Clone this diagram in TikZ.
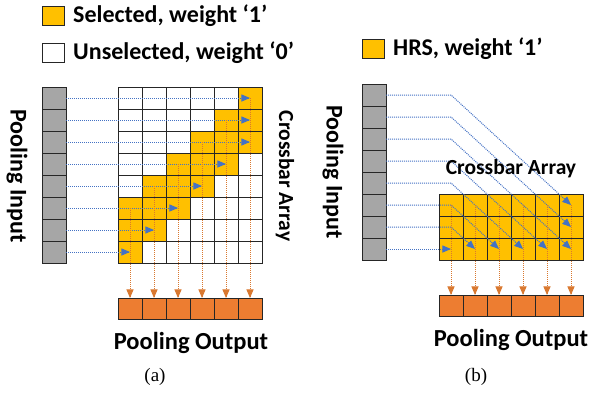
\documentclass[tikz,border=0pt]{standalone}
\usepackage{fontspec}
\setmainfont{Liberation Serif}
\newfontfamily\calfont{Carlito}
\usetikzlibrary{arrows,calc}
\definecolor{SelClr}{HTML}{FFC000}
\definecolor{OutClr}{HTML}{ED7D31}
\definecolor{InClr}{HTML}{A6A6A6}
\definecolor{BlueClr}{HTML}{4472C4}
\definecolor{DotClr}{HTML}{D9782F}

\begin{document}
\begin{tikzpicture}[x=1pt,y=-1pt,
  cell/.style={draw=black!85,line width=0.8pt,minimum width=24pt,minimum height=22pt,
    inner sep=0pt,outer sep=0pt,anchor=north west},
  incell/.style={cell,fill=InClr},
  selcell/.style={cell,fill=SelClr},
  outcell/.style={cell,fill=OutClr,minimum height=21pt},
  keybox/.style={cell,minimum width=22pt,minimum height=19pt,anchor=center},
  lbl/.style={inner sep=0pt,font=\calfont\bfseries\fontsize{24}{24}\selectfont},
  lblbig/.style={inner sep=0pt,font=\calfont\bfseries\fontsize{24.5}{25}\selectfont},
  lblsmall/.style={inner sep=0pt,font=\calfont\bfseries\fontsize{21.5}{22}\selectfont},
  captxt/.style={inner sep=0pt,font=\fontsize{19}{19}\selectfont},
  bluedot/.style={BlueClr,line width=1pt,densely dotted,-triangle 45},
  orgdot/.style={DotClr,line width=1pt,densely dotted,-triangle 45}]
\useasboundingbox (0,0) rectangle (590,392);

\node[keybox,fill=SelClr] (keysel) at (53,16) {};
\node[lbl,anchor=west] (txtsel) at (73,16) {Selected, weight ‘1’};
\node[keybox,fill=white] (keyuns) at (53,53) {};
\node[lbl,anchor=west] (txtuns) at (73,53) {Unselected, weight ‘0’};

\foreach \i in {1,...,8} {
  \node[incell] (ina-\i) at (42,{87+22*(\i-1)}) {};
  \foreach \c in {1,...,6} {
    \pgfmathtruncatemacro\sel{and(\c>=7-\i,\c<=9-\i)}
    \ifnum\sel=1 \def\fc{SelClr}\else\def\fc{white}\fi
    \node[cell,fill=\fc] (xa-\i-\c) at ({118+24*(\c-1)},{87+22*(\i-1)}) {};
  }
}
\foreach \i in {1,...,8} {
  \pgfmathtruncatemacro\e{min(9-\i,6)}
  \draw[bluedot] (ina-\i.east) -- (xa-\i-\e.center);
}
\foreach \c in {1,...,6} {
  \pgfmathtruncatemacro\t{7-\c}
  \node[outcell] (outa-\c) at ({118+24*(\c-1)},298) {};
  \draw[orgdot] (xa-\t-\c.center) -- (outa-\c.north);
}

\node[lbl,rotate=-90] (pina) at (17,176) {Pooling Input};
\node[lblsmall,rotate=-90] (xbara) at (285,176) {Crossbar Array};
\node[lblbig] (pouta) at (191,343) {Pooling Output};
\node[captxt] (capa) at (155,377) {(a)};

\node[keybox,fill=SelClr] (keyhrs) at (373,49) {};
\node[lbl,anchor=west] (txthrs) at (393,49) {HRS, weight ‘1’};

\foreach \i in {1,...,8}
  \node[incell] (inb-\i) at (362,{84+22*(\i-1)}) {};
\foreach \r in {1,2,3}
  \foreach \c in {1,...,6}
    \node[selcell] (xb-\r-\c) at ({439+24*(\c-1)},{194+22*(\r-1)}) {};
\foreach \i in {1,...,8} {
  \pgfmathtruncatemacro\r{min(3,\i)}
  \pgfmathtruncatemacro\e{6+\r-\i}
  \coordinate (bend-\i) at (451,{84+22*(\i-0.5)});
  \ifnum\i=8
    \draw[bluedot] (inb-\i.east) -- (xb-\r-\e.center);
  \else
    \draw[bluedot] (inb-\i.east) -- (bend-\i) -- (xb-\r-\e.center);
  \fi
}
\foreach \c in {1,...,6} {
  \node[outcell] (outb-\c) at ({439+24*(\c-1)},295) {};
  \draw[orgdot] (xb-1-\c.center) -- (outb-\c.north);
}

\node[lbl,rotate=-90] (pinb) at (333,172) {Pooling Input};
\node[lblsmall] (xbarb) at (511,169) {Crossbar Array};
\node[lblbig] (poutb) at (511,340) {Pooling Output};
\node[captxt] (capb) at (476,377) {(b)};

\end{tikzpicture}
\end{document}
